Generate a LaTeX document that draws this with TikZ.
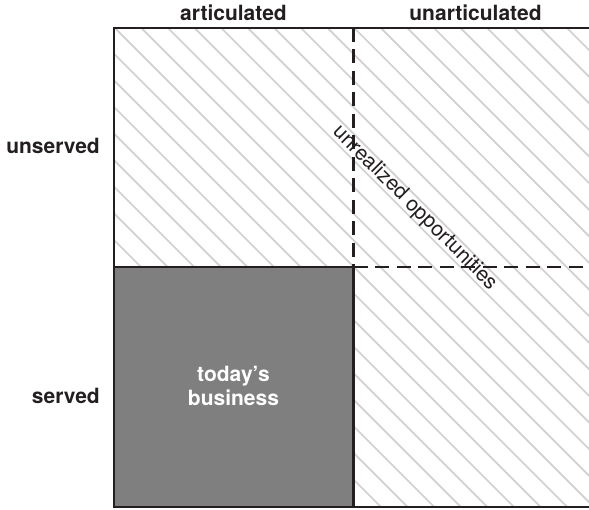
\documentclass[tikz,border=0pt]{standalone}
\usepackage{fontspec}
\setmainfont{TeX Gyre Heros}

\definecolor{hgray}{HTML}{D0D0D0}
\definecolor{cgray}{HTML}{7F7F7F}
\definecolor{ink}{HTML}{231F20}

\begin{document}
\begin{tikzpicture}[x=1pt,y=-1pt,
    axislabel/.style={font=\fontsize{21}{24}\selectfont\bfseries,text=ink,inner sep=0pt},
    diaglabel/.style={font=\fontsize{21}{24}\selectfont,text=ink,inner sep=0pt},
    hatch/.style={hgray,line width=1.7pt},
    frame/.style={ink,line width=2.4pt},
    dashframe/.style={ink,line width=2.4pt,dash pattern=on 14pt off 7.5pt}]
  \useasboundingbox (0,0) rectangle (589,510);
  \coordinate (tl) at (114,28);
  \coordinate (tm) at (353.5,28);
  \coordinate (tr) at (600,28);
  \coordinate (ml) at (114,267);
  \coordinate (mm) at (353.5,267);
  \coordinate (mr) at (600,267);
  \coordinate (bl) at (114,507);
  \coordinate (bm) at (353.5,507);
  \coordinate (br) at (600,507);
  % hatched area
  \begin{scope}
    \clip (tl) -- (tr) -- (br) -- (bm) -- (mm) -- (ml) -- cycle;
    \foreach \k in {-16,...,22}
      \draw[hatch] ({7+26.6*\k},0) -- ++(540,540);
  \end{scope}
  \draw[frame,fill=cgray] (ml) rectangle (bm);
  \draw[frame] (tr) -- (tl) -- (bl) -- (br);
  \draw[dashframe] (tm) -- (mm);
  \draw[dashframe] (mm) -- (mr);
  % labels
  \node[axislabel,anchor=base] (articulated) at (233.5,20.5) {articulated};
  \node[axislabel,anchor=base] (unarticulated) at (475.5,20.5) {unarticulated};
  \node[axislabel,anchor=base east] (unserved) at (100,154) {unserved};
  \node[axislabel,anchor=base east] (served) at (100,404) {served};
  \node[axislabel,text=white,align=center] (today) at (233.5,386) {today’s\\business};
  \node[diaglabel,rotate=-45] (unrealized) at (415,208) {unrealized opportunities};
\end{tikzpicture}
\end{document}
